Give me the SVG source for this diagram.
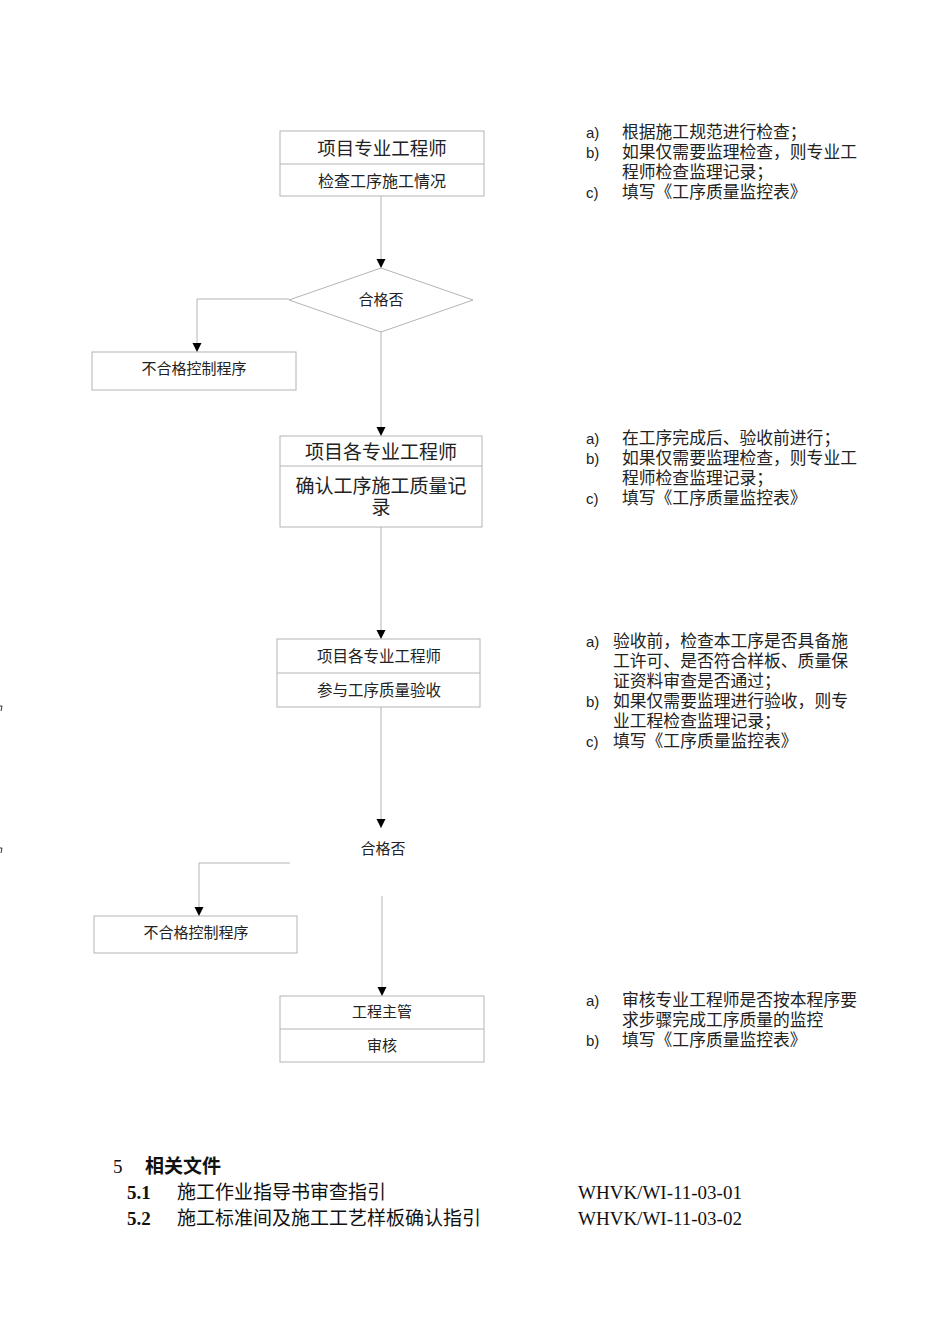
<svg xmlns="http://www.w3.org/2000/svg" width="950" height="1344" viewBox="0 0 950 1344">
<defs>
<marker id="ah" markerWidth="10" markerHeight="10" refX="9" refY="5" orient="auto" markerUnits="userSpaceOnUse">
<path d="M0,0.5 L9,5 L0,9.5 Z" fill="#000"/>
</marker>
<style>
.box{fill:#fff;stroke:#b4b4b4;stroke-width:1}
.div{stroke:#b4b4b4;stroke-width:1}
.ln{fill:none;stroke:#b4b4b4;stroke-width:1;marker-end:url(#ah)}
.t{font-family:"Liberation Serif","Noto Sans CJK SC",serif;fill:#222;text-anchor:middle;dominant-baseline:central}
.n{font-family:"Liberation Serif","Noto Sans CJK SC",serif;fill:#222;font-size:16.8px;dominant-baseline:central}
.lbl{font-family:"Liberation Sans","Noto Sans CJK SC",sans-serif;fill:#222;font-size:15px;dominant-baseline:central}
.f{font-family:"Liberation Serif","Noto Sans CJK SC",serif;fill:#111;font-size:19px;dominant-baseline:central}
</style>
</defs>
<rect width="950" height="1344" fill="#fff"/>

<g id="connectors">
<path class="ln" d="M381,196 V268"/>
<path class="ln" d="M289,299 H197 V352"/>
<path class="ln" d="M381,332 V436"/>
<path class="ln" d="M381,527 V639"/>
<path class="ln" d="M381,707 V828"/>
<path class="ln" d="M290,863 H199 V916"/>
<path class="ln" d="M382,896 V996"/>
</g>

<g id="n1">
<rect class="box" x="280" y="131" width="204" height="65"/>
<line class="div" x1="280" y1="164" x2="484" y2="164"/>
<text class="t" x="382" y="149" font-size="18.5">项目专业工程师</text>
<text class="t" x="382" y="181" font-size="16">检查工序施工情况</text>
</g>

<g id="d1">
<polygon class="box" points="381,268 473,300 381,332 289,300"/>
<text class="t" x="381" y="300" font-size="15">合格否</text>
</g>

<g id="r1">
<rect class="box" x="92" y="352" width="204" height="38"/>
<text class="t" x="194" y="369" font-size="15">不合格控制程序</text>
</g>

<g id="n2">
<rect class="box" x="280" y="436" width="202" height="91"/>
<line class="div" x1="280" y1="466" x2="482" y2="466"/>
<text class="t" x="381" y="452" font-size="19">项目各专业工程师</text>
<text class="t" x="381" y="486" font-size="19">确认工序施工质量记</text>
<text class="t" x="381" y="507" font-size="19">录</text>
</g>

<g id="n3">
<rect class="box" x="277" y="639" width="203" height="68"/>
<line class="div" x1="277" y1="673" x2="480" y2="673"/>
<text class="t" x="379" y="656" font-size="15.5">项目各专业工程师</text>
<text class="t" x="379" y="690" font-size="15.5">参与工序质量验收</text>
</g>

<g id="d2">
<text class="t" x="383" y="849" font-size="15">合格否</text>
</g>

<g id="r2">
<rect class="box" x="94" y="916" width="203" height="37"/>
<text class="t" x="196" y="933" font-size="15">不合格控制程序</text>
</g>

<g id="n4">
<rect class="box" x="280" y="996" width="204" height="66"/>
<line class="div" x1="280" y1="1029" x2="484" y2="1029"/>
<text class="t" x="382" y="1012" font-size="15">工程主管</text>
<text class="t" x="382" y="1046" font-size="15">审核</text>
</g>

<g id="notes1">
<text class="lbl" x="586" y="132">a)</text><text class="n" x="622" y="132">根据施工规范进行检查；</text>
<text class="lbl" x="586" y="152">b)</text><text class="n" x="622" y="152">如果仅需要监理检查，则专业工</text>
<text class="n" x="622" y="172">程师检查监理记录；</text>
<text class="lbl" x="586" y="192">c)</text><text class="n" x="622" y="192">填写《工序质量监控表》</text>
</g>

<g id="notes2">
<text class="lbl" x="586" y="438">a)</text><text class="n" x="622" y="438">在工序完成后、验收前进行；</text>
<text class="lbl" x="586" y="458">b)</text><text class="n" x="622" y="458">如果仅需要监理检查，则专业工</text>
<text class="n" x="622" y="478">程师检查监理记录；</text>
<text class="lbl" x="586" y="498">c)</text><text class="n" x="622" y="498">填写《工序质量监控表》</text>
</g>

<g id="notes3">
<text class="lbl" x="586" y="641">a)</text><text class="n" x="613" y="641">验收前，检查本工序是否具备施</text>
<text class="n" x="613" y="661">工许可、是否符合样板、质量保</text>
<text class="n" x="613" y="681">证资料审查是否通过；</text>
<text class="lbl" x="586" y="701">b)</text><text class="n" x="613" y="701">如果仅需要监理进行验收，则专</text>
<text class="n" x="613" y="721">业工程检查监理记录；</text>
<text class="lbl" x="586" y="741">c)</text><text class="n" x="613" y="741">填写《工序质量监控表》</text>
</g>

<g id="notes4">
<text class="lbl" x="586" y="1000">a)</text><text class="n" x="622" y="1000">审核专业工程师是否按本程序要</text>
<text class="n" x="622" y="1020">求步骤完成工序质量的监控</text>
<text class="lbl" x="586" y="1040">b)</text><text class="n" x="622" y="1040">填写《工序质量监控表》</text>
</g>

<g id="marks">
<path d="M0,706 L2,706 L1,711" fill="none" stroke="#333" stroke-width="1"/>
<path d="M0,848 L2,848 L1,853" fill="none" stroke="#333" stroke-width="1"/>
</g>

<g id="related">
<text class="f" x="113" y="1166" font-family="Liberation Sans, sans-serif" font-size="17">5</text>
<text class="f" x="145" y="1166" font-weight="bold" font-size="18.5">相关文件</text>
<text class="f" x="127" y="1192" font-weight="bold">5.1</text>
<text class="f" x="177" y="1192">施工作业指导书审查指引</text>
<text class="f" x="578" y="1192">WHVK/WI-11-03-01</text>
<text class="f" x="127" y="1218" font-weight="bold">5.2</text>
<text class="f" x="177" y="1218">施工标准间及施工工艺样板确认指引</text>
<text class="f" x="578" y="1218">WHVK/WI-11-03-02</text>
</g>
</svg>
